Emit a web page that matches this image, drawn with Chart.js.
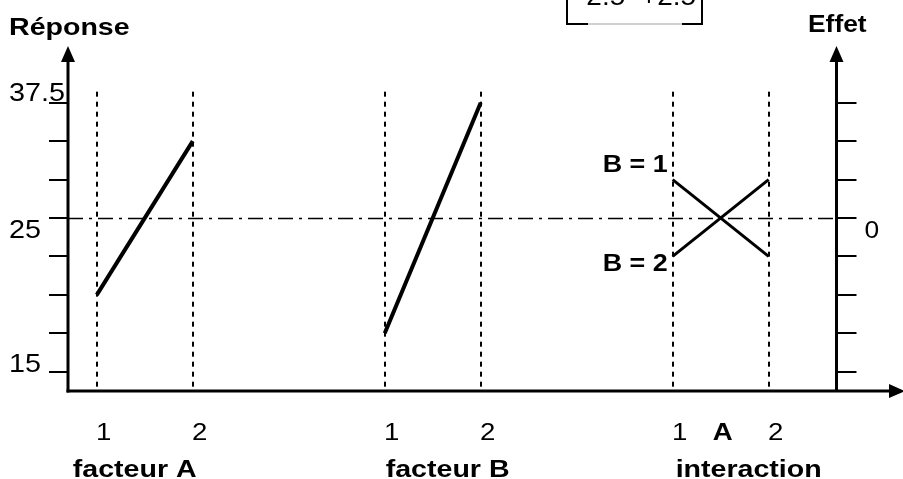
<!DOCTYPE html>
<html>
<head>
<meta charset="utf-8">
<script src="https://cdn.jsdelivr.net/npm/chart.js@4.4.1/dist/chart.umd.min.js"></script>
<style>
  html, body { margin: 0; padding: 0; background: #fff; }
  #wrap { width: 903px; height: 479px; }
</style>
</head>
<body>
<div id="wrap"><canvas id="effets" width="903" height="479"></canvas></div>
<script>
// niveaux 1 et 2 de chaque facteur, sur l'axe horizontal
var niveauxA = [0, 1];
var niveauxB = [3, 4];
var niveauxInteraction = [6, 7];
var axeEffet = 7.7;

// reponses, en graduations (0 = 25 / effet nul)
var reponseA = [-2, 2];
var reponseB = [-3, 3];
var interactionB1 = [1, -1];
var interactionB2 = [-1, 1];

var graduations = [-4, -3, -2, -1, 0, 1, 2, 3];
var etiquettesReponse = { '3': '37.5', '0': '25', '-4': '15' };
var etiquettesEffet = { '0': '0' };
var etiquettesNiveaux = ['1', '2'];
var nomsFacteurs = ['facteur A', 'facteur B', 'interaction'];

var POLICE = '"Liberation Sans", Arial, sans-serif';

function points(xs, ys) {
  return xs.map(function (x, i) { return { x: x, y: ys[i] }; });
}

function texte(ctx, str, x, y, gras, taille, align, etire) {
  ctx.save();
  ctx.font = (gras ? 'bold ' : '') + taille + 'px ' + POLICE;
  ctx.fillStyle = '#000';
  ctx.textAlign = align || 'left';
  ctx.textBaseline = 'alphabetic';
  ctx.translate(x, y);
  ctx.scale(etire || 1.18, 1);
  ctx.fillText(str, 0, 0);
  ctx.restore();
}

function trait(ctx, x1, y1, x2, y2, largeur, tirets, couleur) {
  ctx.save();
  ctx.strokeStyle = couleur || '#000';
  ctx.lineWidth = largeur;
  ctx.setLineDash(tirets || []);
  ctx.beginPath();
  ctx.moveTo(x1, y1);
  ctx.lineTo(x2, y2);
  ctx.stroke();
  ctx.restore();
}

function fleche(ctx, pts) {
  ctx.save();
  ctx.fillStyle = '#000';
  ctx.beginPath();
  ctx.moveTo(pts[0][0], pts[0][1]);
  ctx.lineTo(pts[1][0], pts[1][1]);
  ctx.lineTo(pts[2][0], pts[2][1]);
  ctx.closePath();
  ctx.fill();
  ctx.restore();
}

var guides = {
  id: 'guides',
  beforeDatasetsDraw: function (chart) {
    var ctx = chart.ctx, xs = chart.scales.x, ys = chart.scales.y, a = chart.chartArea;
    var haut = ys.getPixelForValue(3) - 11;
    niveauxA.concat(niveauxB, niveauxInteraction).forEach(function (v) {
      var x = Math.round(xs.getPixelForValue(v));
      trait(ctx, x, haut, x, a.bottom, 2, [5, 5]);
    });
    var y0 = Math.round(ys.getPixelForValue(0)) + 0.5;
    trait(ctx, a.left, y0, Math.round(xs.getPixelForValue(axeEffet)), y0, 1.5, [15, 6, 3, 6]);
  }
};

var axes = {
  id: 'axes',
  afterDatasetsDraw: function (chart) {
    var ctx = chart.ctx, xs = chart.scales.x, ys = chart.scales.y, a = chart.chartArea;
    var xr = Math.round(xs.getPixelForValue(axeEffet)) + 0.5;

    // axes et fleches
    trait(ctx, a.left, a.bottom + 1.5, a.left, a.top + 14, 3);
    fleche(ctx, [[a.left, a.top + 1], [a.left - 7, a.top + 17], [a.left + 7, a.top + 17]]);
    trait(ctx, xr, a.bottom, xr, a.top + 14, 3);
    fleche(ctx, [[xr, a.top + 1], [xr - 7, a.top + 17], [xr + 7, a.top + 17]]);
    trait(ctx, a.left - 1.5, a.bottom, a.right - 12, a.bottom, 3);
    fleche(ctx, [[a.right + 2, a.bottom], [a.right - 14, a.bottom - 7], [a.right - 14, a.bottom + 7]]);

    // graduations
    graduations.forEach(function (g) {
      var y = Math.round(ys.getPixelForValue(g));
      trait(ctx, a.left - 19, y, a.left, y, 2);
      trait(ctx, xr, y, xr + 20, y, 2);
    });

    // etiquettes de l'axe des reponses
    texte(ctx, etiquettesReponse['3'], 9, ys.getPixelForValue(3) - 2, false, 25, 'left', 1.15);
    texte(ctx, etiquettesReponse['0'], 9, ys.getPixelForValue(0) + 20, false, 25, 'left', 1.15);
    texte(ctx, etiquettesReponse['-4'], 9, ys.getPixelForValue(-4), false, 25, 'left', 1.15);
    texte(ctx, etiquettesEffet['0'], xr + 28, ys.getPixelForValue(0) + 20, false, 24, 'left', 1.1);

    texte(ctx, 'Réponse', 9, 35, true, 24, 'left', 1.19);
    texte(ctx, 'Effet', 808, 32, true, 24, 'left', 1.1);

    // niveaux et noms des facteurs
    var groupes = [niveauxA, niveauxB, niveauxInteraction];
    var decalNom = [-24, 1, 3];
    groupes.forEach(function (niv, i) {
      niv.forEach(function (v, j) {
        texte(ctx, etiquettesNiveaux[j], xs.getPixelForValue(v) + 7, 440, false, 24, 'center', 1.15);
      });
      texte(ctx, nomsFacteurs[i], xs.getPixelForValue(niv[0]) + decalNom[i], 477, true, 24, 'left', 1.19);
    });
    var milieu = (niveauxInteraction[0] + niveauxInteraction[1]) / 2;
    texte(ctx, 'A', xs.getPixelForValue(milieu) + 2, 440, true, 24, 'center', 1.15);

    var xi = xs.getPixelForValue(niveauxInteraction[0]);
    texte(ctx, 'B = 1', xi - 70, ys.getPixelForValue(interactionB1[0]) - 8, true, 24, 'left', 1.12);
    texte(ctx, 'B = 2', xi - 70, ys.getPixelForValue(interactionB2[0]) + 15, true, 24, 'left', 1.12);

    // encadre coupe en haut de la figure
    trait(ctx, 567, 0, 567, 25, 2);
    trait(ctx, 702, 0, 702, 25, 2);
    trait(ctx, 566, 24, 588, 24, 2);
    trait(ctx, 682, 24, 703, 24, 2);
    trait(ctx, 588, 24, 682, 24, 2, [], '#d0d0d0');
    texte(ctx, '-2.5  +2.5', 577, 5, false, 25, 'left', 1.12);
  }
};

var ctx = document.getElementById('effets').getContext('2d');

var styleTrait = { showLine: true, pointRadius: 0, borderColor: '#000', backgroundColor: '#000', fill: false, tension: 0 };

new Chart(ctx, {
  type: 'scatter',
  data: {
    datasets: [
      Object.assign({ label: 'facteur A', data: points(niveauxA, reponseA), borderWidth: 4 }, styleTrait),
      Object.assign({ label: 'facteur B', data: points(niveauxB, reponseB), borderWidth: 4 }, styleTrait),
      Object.assign({ label: 'B = 1', data: points(niveauxInteraction, interactionB1), borderWidth: 3 }, styleTrait),
      Object.assign({ label: 'B = 2', data: points(niveauxInteraction, interactionB2), borderWidth: 3 }, styleTrait)
    ]
  },
  options: {
    responsive: false,
    animation: false,
    layout: { padding: { left: 68, top: 45, right: 0, bottom: 88 } },
    scales: {
      x: { type: 'linear', min: -0.3, max: 8.4, display: false },
      y: { type: 'linear', min: -4.5, max: 4.5, display: false }
    },
    plugins: {
      legend: { display: false },
      tooltip: { enabled: false }
    }
  },
  plugins: [guides, axes]
});
</script>
</body>
</html>
